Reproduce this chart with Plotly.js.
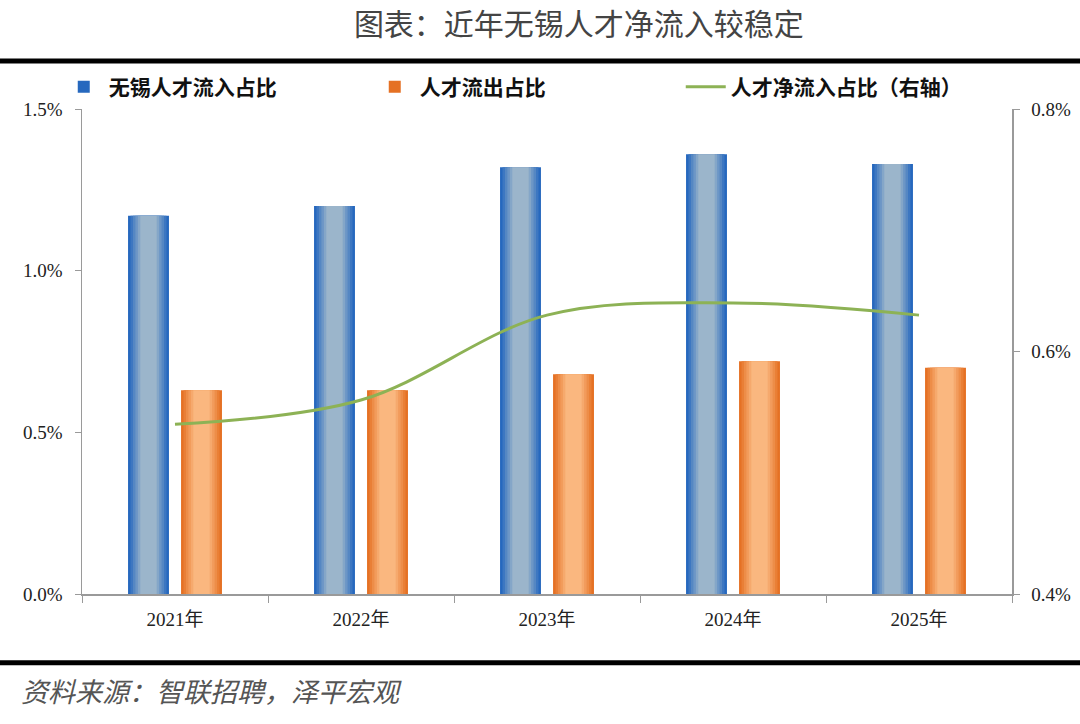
<!DOCTYPE html>
<html>
<head>
<meta charset="utf-8">
<script src="https://cdn.plot.ly/plotly-3.0.1.min.js"></script>
<style>
  html, body { margin: 0; padding: 0; background: #fff; }
  #chart { width: 1080px; height: 724px; }
</style>
</head>
<body>
<div id="chart"></div>
<script>
// Data
const years = ['2021年', '2022年', '2023年', '2024年', '2025年'];
const inflowShare = [1.17, 1.20, 1.32, 1.36, 1.33];
const outflowShare = [0.63, 0.63, 0.68, 0.72, 0.70];
const netInflowShare = [0.54, 0.56, 0.63, 0.64, 0.63];

const cjk = '"Noto Sans CJK SC", sans-serif';
const serif = '"Liberation Serif", "Noto Sans CJK SC", serif';

// fake horizontal gradient: nested bars, dark edges -> light centre
function mix(a, b, t) {
    const c = a.map((v, i) => Math.round(v + (b[i] - v) * t));
    return `rgb(${c[0]},${c[1]},${c[2]})`;
}

function gradientBars(name, values, centre, edge, mid) {
    const fullW = 0.22;
    const steps = [1, 0.88, 0.76, 0.64, 0.52, 0.4];
    return steps.map((f, k) => {
        const w = fullW * f;
        return {
            x: years, y: values, type: 'bar', name: name,
            width: w, offset: centre - w / 2,
            marker: { color: mix(edge, mid, k / (steps.length - 1)), line: { width: 0 } },
            showlegend: k === 0, legendgroup: name, hoverinfo: k === 0 ? 'y' : 'skip'
        };
    });
}

const traces = [
    ...gradientBars('无锡人才流入占比', inflowShare, -0.1425, [38, 104, 190], [155, 181, 203]),
    ...gradientBars('人才流出占比', outflowShare, 0.1425, [229, 113, 36], [250, 183, 127]),
    {
        x: years, y: netInflowShare, type: 'scatter', mode: 'lines', yaxis: 'y2',
        name: '人才净流入占比（右轴）',
        line: { color: '#8db255', width: 3, shape: 'spline', smoothing: 1 }
    }
];

const layout = {
    width: 1080, height: 724,
    paper_bgcolor: '#fff', plot_bgcolor: '#fff',
    margin: { l: 82, r: 68, t: 109, b: 130 },
    barmode: 'overlay',
    font: { family: serif, color: '#222', size: 19 },
    title: {
        text: '图表：近年无锡人才净流入较稳定',
        font: { family: cjk, size: 30, color: '#444' },
        x: 0.536, xanchor: 'center', y: 0.966, yanchor: 'middle'
    },
    showlegend: true,
    legend: {
        orientation: 'h', x: -0.025, xanchor: 'left', y: 1.045, yanchor: 'middle',
        font: { family: cjk, size: 21, color: '#111', weight: 'bold' },
        itemwidth: 40, entrywidth: 256, entrywidthmode: 'pixels',
        traceorder: 'normal', bgcolor: 'rgba(0,0,0,0)'
    },
    xaxis: {
        type: 'category', showgrid: false,
        showline: true, linecolor: '#9a9a9a', linewidth: 1.5,
        ticks: 'outside', tickson: 'boundaries', ticklen: 7, tickcolor: '#9a9a9a',
        ticklabelstandoff: 8,
        tickfont: { family: serif, size: 19, color: '#222' }
    },
    yaxis: {
        range: [0, 1.5], dtick: 0.5, tickformat: '.1f', ticksuffix: '%',
        showgrid: false, zeroline: false,
        showline: true, linecolor: '#9a9a9a', linewidth: 1.5,
        ticks: 'outside', ticklen: 6, tickcolor: '#9a9a9a',
        ticklabelstandoff: 8,
        tickfont: { family: serif, size: 19, color: '#222' }
    },
    yaxis2: {
        overlaying: 'y', side: 'right',
        range: [0.4, 0.8], dtick: 0.2, tickformat: '.1f', ticksuffix: '%',
        showgrid: false, zeroline: false,
        showline: true, linecolor: '#9a9a9a', linewidth: 1.5,
        ticks: 'outside', ticklen: 6, tickcolor: '#9a9a9a',
        ticklabelstandoff: 8,
        tickfont: { family: serif, size: 19, color: '#222' }
    },
    shapes: [
        { type: 'line', xref: 'paper', yref: 'paper', x0: -0.09, x1: 1.08, y0: 1.099, y1: 1.099,
          line: { color: '#000', width: 5 } },
        { type: 'line', xref: 'paper', yref: 'paper', x0: -0.09, x1: 1.08, y0: -0.142, y1: -0.142,
          line: { color: '#000', width: 5 } }
    ],
    annotations: [
        { text: '资料来源：智联招聘，泽平宏观', xref: 'paper', yref: 'paper',
          x: -0.068, xanchor: 'left', y: -0.198, yanchor: 'middle', showarrow: false,
          font: { family: cjk, size: 27, color: '#555', style: 'italic' } }
    ]
};

Plotly.newPlot('chart', traces, layout, { displayModeBar: false, staticPlot: true });
</script>
</body>
</html>
